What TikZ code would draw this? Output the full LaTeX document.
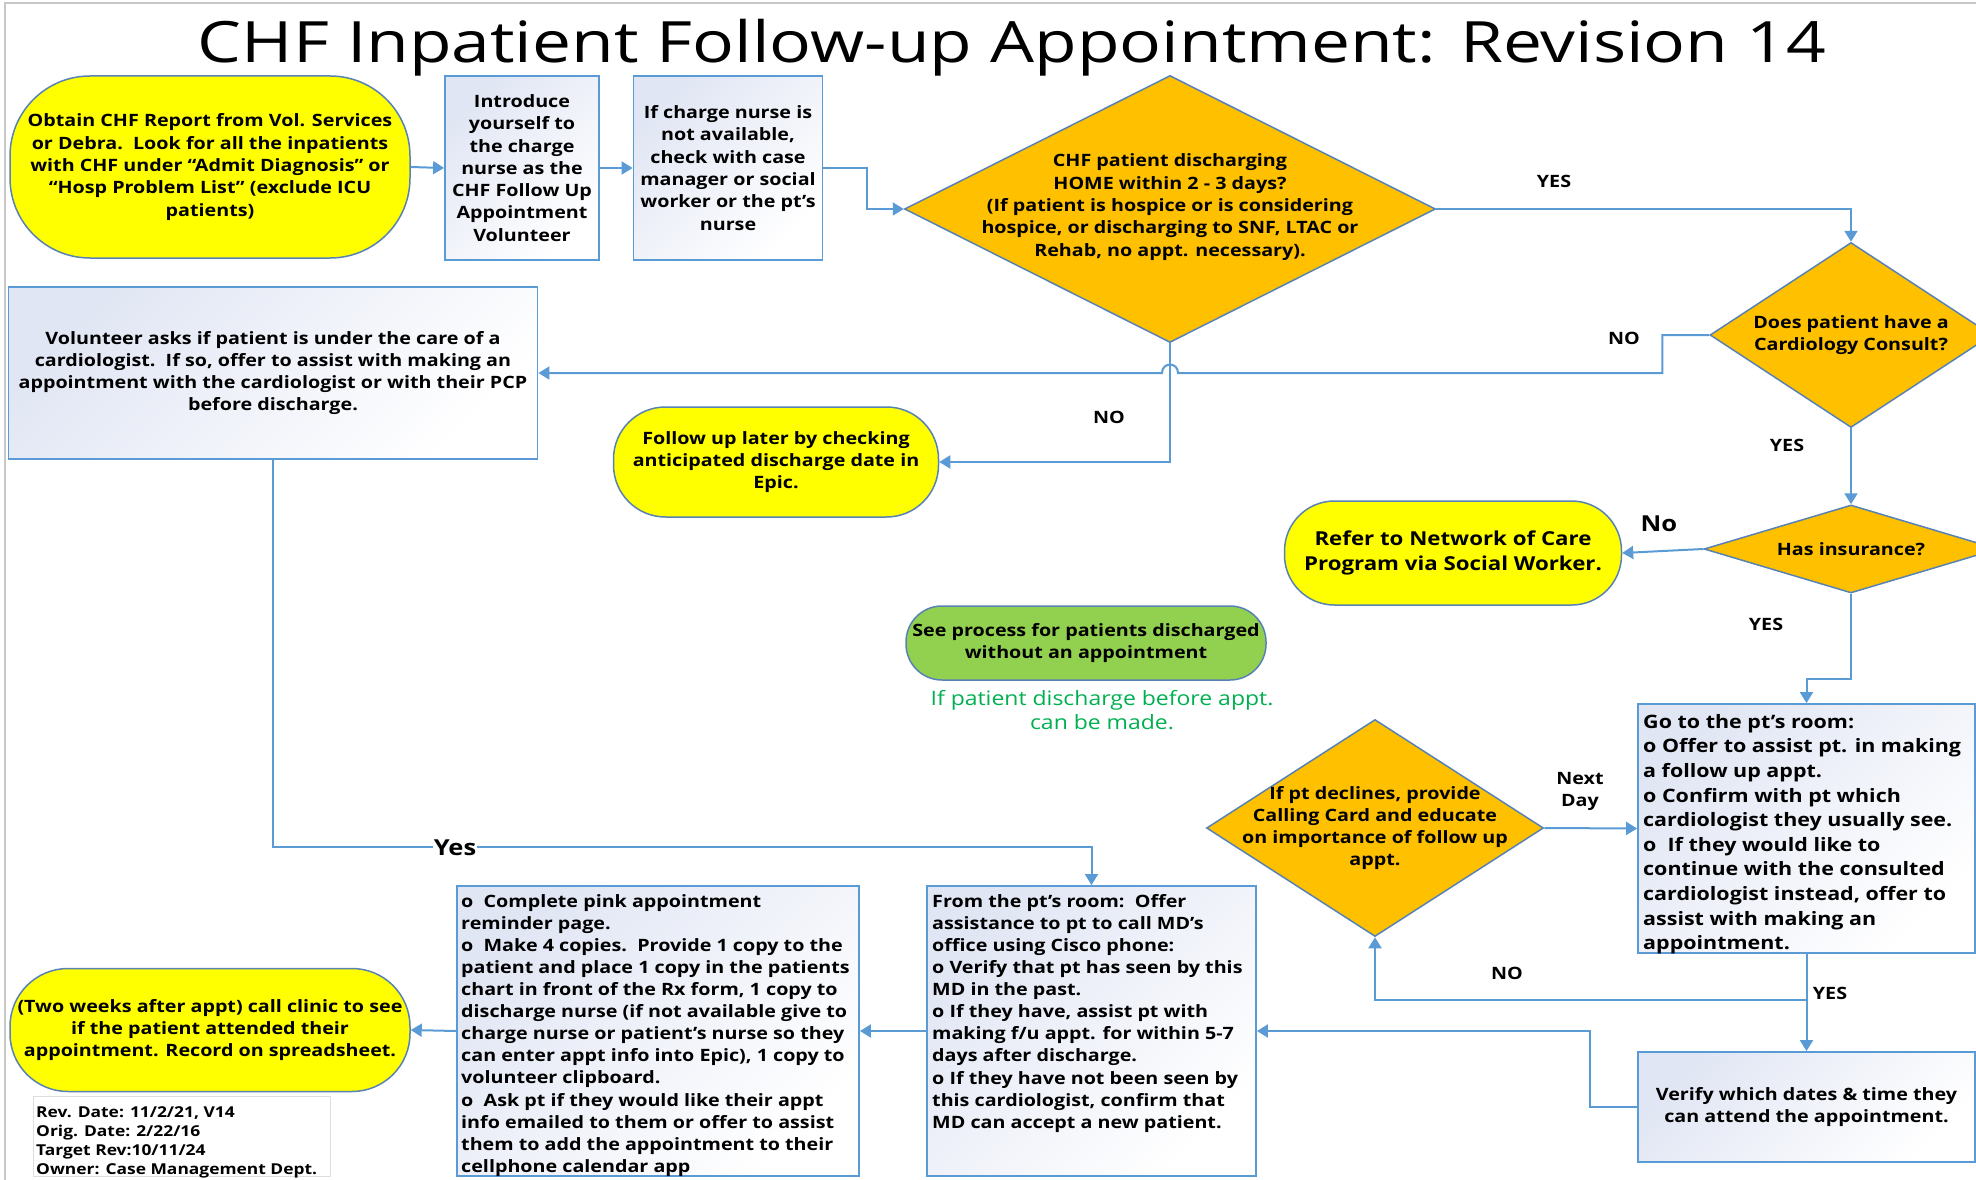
\documentclass[tikz,border=0pt]{standalone}
\usepackage{fontspec}
\setmainfont{Open Sans}[FakeStretch=1.16]
\newfontfamily\titlefont{Open Sans}[FakeStretch=1.22]
\usetikzlibrary{shapes.geometric, arrows.meta, calc}

\definecolor{flowblue}{HTML}{5B9BD5}
\definecolor{edgeblue}{HTML}{5882B4}
\definecolor{termyellow}{HTML}{FFFF00}
\definecolor{decorange}{HTML}{FFC000}
\definecolor{procgreen}{HTML}{92D050}
\definecolor{notegreen}{HTML}{00B050}
\definecolor{boxtint}{HTML}{E1E6F4}
\definecolor{framegray}{HTML}{C8C8C8}

\tikzset{
  txt/.style={font=\fontsize{17}{22.3}\selectfont\bfseries, align=center, inner sep=0pt},
  lefttxt/.style={font=\fontsize{17}{22.1}\selectfont\bfseries, align=left, anchor=north west, inner sep=0pt},
  flow/.style={draw=flowblue, line width=2pt, -{Triangle[width=13pt,length=11pt]}},
  terminal/.style={draw=edgeblue, line width=1.5pt, fill=termyellow, rounded corners=#1, txt},
  procbox/.style={draw=flowblue, line width=1.8pt, left color=boxtint, right color=white, shading angle=45, txt},
  decision/.style={diamond, draw=edgeblue, line width=1.5pt, fill=decorange, inner sep=0pt},
  answer/.style={font=\fontsize{17}{20}\selectfont\bfseries, align=center, inner sep=1pt}
}

\begin{document}
\begin{tikzpicture}[x=1pt, y=-1pt]
  \useasboundingbox (0,0) rectangle (1976,1180);
  \draw[framegray, line width=2pt] (5,1180) -- (5,3) -- (1976,3);

  % title
  \node[font=\titlefont\fontsize{57}{63}\selectfont] (title) at (1012,48) {CHF Inpatient Follow-up Appointment: Revision 14};

  % top row
  \node[terminal=80pt, minimum width=400pt, minimum height=182pt] (obtain) at (210,167) {Obtain CHF Report from Vol. Services\\or Debra.\ \ Look for all the inpatients\\with CHF under “Admit Diagnosis” or\\“Hosp Problem List” (exclude ICU\\patients)};
  \node[procbox, minimum width=154pt, minimum height=184pt] (intro) at (522,168) {Introduce\\yourself to\\the charge\\nurse as the\\CHF Follow Up\\Appointment\\Volunteer};
  \node[procbox, minimum width=189pt, minimum height=184pt] (charge) at (728,168) {If charge nurse is\\not available,\\check with case\\manager or social\\worker or the pt’s\\nurse};
  \node[decision, minimum width=531pt, minimum height=267pt] (home) at (1170,209) {};
  \node[txt] (hometext) at (1170,207) {CHF patient discharging\\HOME within 2 - 3 days?\\(If patient is hospice or is considering\\hospice, or discharging to SNF, LTAC or\\Rehab, no appt. necessary).};

  % right column
  \node[decision, minimum width=282pt, minimum height=185pt] (card) at (1851,335) {};
  \node[txt] (cardtext) at (1851,335) {Does patient have a\\Cardiology Consult?};
  \node[decision, minimum width=294pt, minimum height=88pt] (ins) at (1851,549) {};
  \node[txt] (instext) at (1851,549) {Has insurance?};
  \node[procbox, minimum width=337pt, minimum height=249pt] (goto) at (1806.5,828.5) {};
  \node[lefttxt, font=\fontsize{18.5}{24.6}\selectfont\bfseries] (gototext) at (1643,714) {Go to the pt’s room:\\o Offer to assist pt. in making\\a follow up appt.\\o Confirm with pt which\\cardiologist they usually see.\\o\ \ If they would like to\\continue with the consulted\\cardiologist instead, offer to\\assist with making an\\appointment.};
  \node[procbox, minimum width=337pt, minimum height=110pt] (verify) at (1806.5,1107) {Verify which dates \& time they\\can attend the appointment.};

  % middle
  \node[procbox, minimum width=529pt, minimum height=172pt] (vol) at (273,373) {Volunteer asks if patient is under the care of a\\cardiologist.\ \ If so, offer to assist with making an\\appointment with the cardiologist or with their PCP\\before discharge.};
  \node[terminal=52pt, minimum width=325pt, minimum height=110pt] (follow) at (776,462) {Follow up later by checking\\anticipated discharge date in\\Epic.};
  \node[terminal=50pt, minimum width=337pt, minimum height=104pt, font=\fontsize{19.2}{25.2}\selectfont\bfseries] (refer) at (1453,553) {Refer to Network of Care\\Program via Social Worker.};
  \node[terminal=36pt, fill=procgreen, minimum width=360pt, minimum height=74pt] (seeproc) at (1086,643) {See process for patients discharged\\without an appointment};
  \node[font=\fontsize{19.8}{24}\selectfont, text=notegreen, align=center] (beforenote) at (1102,710) {If patient discharge before appt.\\can be made.};
  \node[decision, minimum width=337pt, minimum height=217pt] (decl) at (1375,828) {};
  \node[txt] (decltext) at (1375,828) {If pt declines, provide\\Calling Card and educate\\on importance of follow up\\appt.};

  % bottom row
  \node[procbox, minimum width=329pt, minimum height=290pt] (room) at (1091.5,1031) {};
  \node[lefttxt] (roomtext) at (932,894) {From the pt’s room:\ \ Offer\\assistance to pt to call MD’s\\office using Cisco phone:\\o Verify that pt has seen by this\\MD in the past.\\o If they have, assist pt with\\making f/u appt. for within 5-7\\days after discharge.\\o If they have not been seen by\\this cardiologist, confirm that\\MD can accept a new patient.};
  \node[procbox, minimum width=402pt, minimum height=290pt] (pink) at (658,1031) {};
  \node[lefttxt] (pinktext) at (461,894) {o\ \ Complete pink appointment\\reminder page.\\o\ \ Make 4 copies.\ \ Provide 1 copy to the\\patient and place 1 copy in the patients\\chart in front of the Rx form, 1 copy to\\discharge nurse (if not available give to\\charge nurse or patient’s nurse so they\\can enter appt info into Epic), 1 copy to\\volunteer clipboard.\\o\ \ Ask pt if they would like their appt\\info emailed to them or offer to assist\\them to add the appointment to their\\cellphone calendar app};
  \node[terminal=58pt, minimum width=400pt, minimum height=123pt] (weeks) at (210,1030) {(Two weeks after appt) call clinic to see\\if the patient attended their\\appointment. Record on spreadsheet.};
  \node[draw=framegray!60, line width=1pt, minimum width=297pt, minimum height=80pt] (revbox) at (181.5,1136) {};
  \node[lefttxt, font=\fontsize{15}{19.3}\selectfont\bfseries] (revtext) at (36,1106) {Rev. Date: 11/2/21, V14\\Orig. Date: 2/22/16\\Target Rev:10/11/24\\Owner: Case Management Dept.};

  % connectors
  \draw[flow] (obtain.east) -- (intro.west);
  \draw[flow] (intro.east) -- (charge.west);
  \draw[flow] (charge.east) -- ++(44,0) |- (home.west);
  \draw[flow] (home.east) -| (card.north);
  \draw[flow] (card.west) -- ++(-47,0) |- ($(home.south |- vol.east)+(8,0)$)
    to[out=90, in=90, looseness=1.8] ($(home.south |- vol.east)+(-8,0)$) -- (vol.east);
  \draw[flow] (home.south) |- (follow.east);
  \draw[flow] (card.south) -- (ins.north);
  \draw[flow] (ins.west) -- (refer.east);
  \draw[flow] (ins.south) |- ($(goto.north)+(0,-24)$) -- (goto.north);
  \draw[flow] (decl.east) -- (goto.west);
  \draw[flow] (goto.south) -- (verify.north);
  \coordinate (split) at ($(goto.south)+(0,46)$);
  \draw[flow] (split) -| (decl.south);
  \draw[flow] (verify.west) -- ++(-47,0) |- (room.east);
  \draw[flow] (room.west) -- (pink.east);
  \draw[flow] (pink.west) -- (weeks.east);
  \draw[flow] (vol.south) |- ($(room.north)+(0,-38)$) -- (room.north);

  % answers
  \node[answer] (yeshome) at (1554,181) {YES};
  \node[answer] (nocard) at (1624,338) {NO};
  \node[answer] (nohome) at (1109,417) {NO};
  \node[answer] (yescard) at (1787,445) {YES};
  \node[answer, font=\fontsize{22}{26}\selectfont\bfseries] (noins) at (1659,524) {No};
  \node[answer] (yesins) at (1766,624) {YES};
  \node[answer, font=\fontsize{17}{22}\selectfont\bfseries] (nextday) at (1580,791) {Next\\Day};
  \node[answer] (nodecl) at (1507,973) {NO};
  \node[answer] (yesgoto) at (1830,993) {YES};
  \node[answer, font=\fontsize{22}{26}\selectfont\bfseries, fill=white] (yesvol) at (455,848) {Yes};
\end{tikzpicture}
\end{document}
